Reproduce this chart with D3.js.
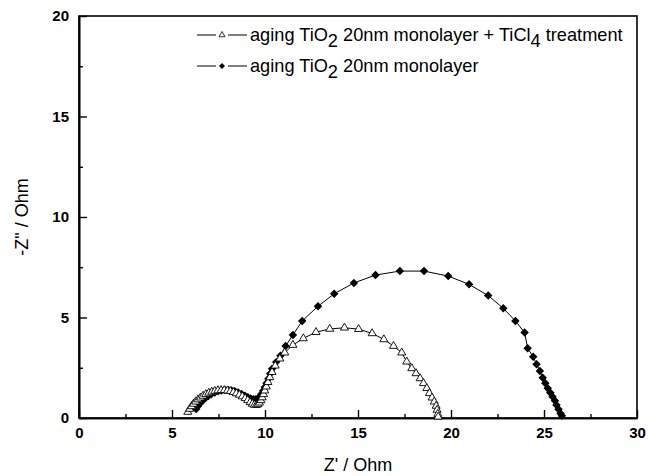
<!DOCTYPE html>
<html><head><meta charset="utf-8">
<script src="https://cdn.jsdelivr.net/npm/d3@7"></script>
<style>body{margin:0;background:#fff}svg{display:block}</style>
</head><body>
<svg id="c" width="648" height="476"></svg>
<script>
// Data: Nyquist plot (Z', -Z'')
const treatedZre = [5.85,5.95,6.05,6.15,6.27,6.40,6.53,6.67,6.82,6.98,7.14,7.30,7.47,7.64,7.81,7.98,8.14,8.30,8.46,8.62,8.78,8.93,9.07,9.20,9.32,9.43,9.53,9.62,9.70,9.78,9.85,9.92,9.99,10.07,10.16,10.26,10.38,10.55,10.80,11.06,11.50,12.06,12.74,13.48,14.27,15.03,15.76,16.39,16.91,17.35,17.62,17.89,18.12,18.34,18.52,18.70,18.84,18.98,19.10,19.20,19.25,19.29,19.31];
const treatedZim = [0.30,0.45,0.58,0.70,0.81,0.92,1.01,1.10,1.18,1.25,1.30,1.34,1.37,1.38,1.38,1.36,1.33,1.28,1.22,1.15,1.07,0.98,0.88,0.78,0.70,0.65,0.64,0.68,0.76,0.88,1.02,1.18,1.36,1.56,1.78,2.02,2.28,2.60,2.95,3.25,3.63,3.96,4.27,4.43,4.49,4.42,4.21,3.91,3.58,3.25,2.80,2.47,2.22,1.97,1.73,1.48,1.23,1.01,0.81,0.60,0.40,0.20,0.06];
const untreatedZre = [6.30,6.40,6.52,6.65,6.80,6.96,7.12,7.30,7.48,7.66,7.84,8.02,8.20,8.38,8.56,8.74,8.92,9.08,9.23,9.37,9.50,9.62,9.72,9.81,9.90,9.99,10.08,10.18,10.28,10.38,10.60,10.83,11.11,11.50,12.00,12.85,13.72,14.78,15.94,17.25,18.55,19.85,20.97,22.00,22.81,23.46,23.96,24.12,24.42,24.60,24.78,24.93,25.07,25.20,25.34,25.46,25.59,25.67,25.78,25.89,25.96];
const untreatedZim = [0.45,0.60,0.74,0.87,0.99,1.10,1.19,1.27,1.33,1.37,1.39,1.39,1.37,1.33,1.27,1.19,1.11,1.03,0.97,0.93,0.93,0.97,1.06,1.19,1.35,1.53,1.73,1.95,2.20,2.45,2.78,3.10,3.58,4.13,4.83,5.56,6.18,6.72,7.11,7.31,7.31,7.06,6.65,6.09,5.46,4.83,4.25,3.47,3.05,2.67,2.34,2.00,1.73,1.48,1.26,1.06,0.86,0.65,0.43,0.23,0.11];
const xTicks = [0,5,10,15,20,25,30];
const yTicks = [0,5,10,15,20];
const xMinor = [2.5,7.5,12.5,17.5,22.5,27.5];
const yMinor = [2.5,7.5,12.5,17.5];

const svg = d3.select("#c");
const L=79, R=637, T=16, B=418;
const x = d3.scaleLinear().domain([0,30]).range([L,R]);
const y = d3.scaleLinear().domain([0,20]).range([B,T]);
const tickFont = "'Liberation Sans', Arial, sans-serif";

// frame
svg.append("rect").attr("x",L).attr("y",T).attr("width",R-L).attr("height",B-T)
  .attr("fill","none").attr("stroke","#000").attr("stroke-width",1.6);

// axes
const gx = svg.append("g").attr("transform",`translate(0,${B})`)
  .call(d3.axisBottom(x).tickValues(xTicks).tickSizeInner(-8).tickSizeOuter(0).tickPadding(9).tickFormat(d3.format("d")));
const gxm = svg.append("g").attr("transform",`translate(0,${B})`)
  .call(d3.axisBottom(x).tickValues(xMinor).tickSizeInner(-4).tickSizeOuter(0).tickFormat(""));
const gy = svg.append("g").attr("transform",`translate(${L},0)`)
  .call(d3.axisLeft(y).tickValues(yTicks).tickSizeInner(-8).tickSizeOuter(0).tickPadding(10).tickFormat(d3.format("d")));
const gym = svg.append("g").attr("transform",`translate(${L},0)`)
  .call(d3.axisLeft(y).tickValues(yMinor).tickSizeInner(-4).tickSizeOuter(0).tickFormat(""));
[gx,gxm,gy,gym].forEach(g=>{
  g.select(".domain").attr("stroke","#000").attr("stroke-width",1.6);
  g.selectAll(".tick line").attr("stroke","#000").attr("stroke-width",1.4);
  g.selectAll(".tick text").attr("font-family",tickFont).attr("font-weight","bold").attr("font-size",15).attr("fill","#000");
});

// axis titles
svg.append("text").attr("x",(L+R)/2).attr("y",471).attr("text-anchor","middle")
  .attr("font-family",tickFont).attr("font-size",18).text("Z' / Ohm");
svg.append("text").attr("transform",`translate(28,${(T+B)/2}) rotate(-90)`).attr("text-anchor","middle")
  .attr("font-family",tickFont).attr("font-size",18).text('-Z" / Ohm');

// series
const line = d3.line().x(d=>x(d[0])).y(d=>y(d[1]));
const s1 = treatedZre.map((v,i)=>[v,treatedZim[i]]);
const s2 = untreatedZre.map((v,i)=>[v,untreatedZim[i]]);
const tri = d3.symbol().type(d3.symbolTriangle).size(28);
const dia = d3.symbol().type(d3.symbolSquare).size(36);

svg.append("path").datum(s2).attr("d",line).attr("fill","none").attr("stroke","#000").attr("stroke-width",1);
svg.append("path").datum(s1).attr("d",line).attr("fill","none").attr("stroke","#000").attr("stroke-width",1);
svg.append("g").selectAll("path").data(s2).join("path")
  .attr("transform",d=>`translate(${x(d[0])},${y(d[1])}) rotate(45)`).attr("d",dia).attr("fill","#000");
svg.append("g").selectAll("path").data(s1).join("path")
  .attr("transform",d=>`translate(${x(d[0])},${y(d[1])})`).attr("d",tri).attr("fill","#fff").attr("stroke","#000").attr("stroke-width",0.9);

// legend
const leg = [
  {y:35, sym:"tri", parts:[["aging TiO",false],["2",true],[" 20nm monolayer + TiCl",false],["4",true],[" treatment",false]]},
  {y:66, sym:"dia", parts:[["aging TiO",false],["2",true],[" 20nm monolayer",false]]}
];
leg.forEach(l=>{
  svg.append("line").attr("x1",197).attr("x2",216).attr("y1",l.y).attr("y2",l.y).attr("stroke","#000");
  svg.append("line").attr("x1",228).attr("x2",247).attr("y1",l.y).attr("y2",l.y).attr("stroke","#000");
  const p = svg.append("path");
  if(l.sym==="tri") p.attr("transform",`translate(222,${l.y})`).attr("d",d3.symbol().type(d3.symbolTriangle).size(16)).attr("fill","#fff").attr("stroke","#000").attr("stroke-width",0.8);
  else p.attr("transform",`translate(222,${l.y}) rotate(45)`).attr("d",d3.symbol().type(d3.symbolSquare).size(18)).attr("fill","#000");
  const t = svg.append("text").attr("x",250).attr("y",l.y+6).attr("font-family",tickFont).attr("font-size",18.2);
  let prevSub = false;
  l.parts.forEach(([s,sub])=>{
    const dy = sub ? 6 : (prevSub ? -6 : 0);
    t.append("tspan").attr("dy",dy).text(s);
    prevSub = sub;
  });
});
</script>
</body></html>
